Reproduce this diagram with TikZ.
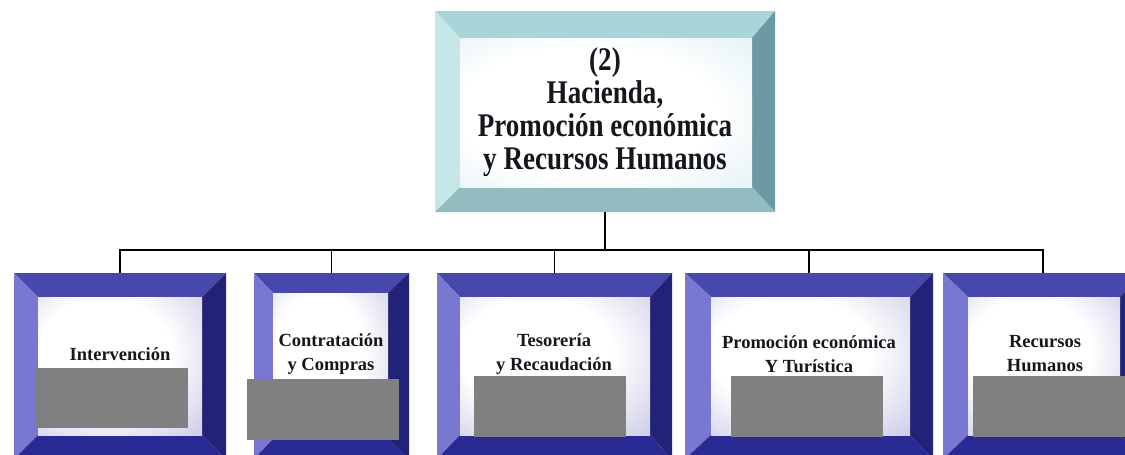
\documentclass[tikz,border=0pt]{standalone}
\usepackage{fontspec}
\setmainfont{Liberation Serif}
\newfontfamily\topfont[FakeStretch=0.82]{Liberation Serif}
\usetikzlibrary{calc}
\definecolor{lo-top}{RGB}{72,72,172}
\definecolor{lo-left}{RGB}{120,120,210}
\definecolor{lo-right}{RGB}{34,34,118}
\definecolor{lo-bottom}{RGB}{42,42,148}
\definecolor{lo-edge}{RGB}{196,196,228}
\definecolor{lo-edge2}{RGB}{150,150,204}
\definecolor{hi-top}{RGB}{168,212,218}
\definecolor{hi-left}{RGB}{198,230,232}
\definecolor{hi-right}{RGB}{108,154,164}
\definecolor{hi-bottom}{RGB}{146,188,192}
\definecolor{hi-edge}{RGB}{214,236,240}
\definecolor{hi-edge2}{RGB}{190,224,230}
\definecolor{redact}{RGB}{128,128,128}
\definecolor{txt}{RGB}{22,22,30}
\pgfdeclareradialshading{loshade}{\pgfpoint{-6bp}{6bp}}{color(0bp)=(white); color(20bp)=(white); color(44bp)=(lo-edge); color(62bp)=(lo-edge2); color(100bp)=(lo-edge2)}
\pgfdeclareradialshading{hishade}{\pgfpoint{-4bp}{0bp}}{color(0bp)=(white); color(22bp)=(white); color(46bp)=(hi-edge); color(62bp)=(hi-edge2); color(100bp)=(hi-edge2)}
\tikzset{
  boxnode/.style={rectangle, inner sep=0pt, outer sep=0pt},
  lo-inner/.style={shading=loshade},
  hi-inner/.style={shading=hishade},
  redbox/.style={rectangle, fill=redact, inner sep=0pt},
  toptext/.style={align=center, text=txt, font=\topfont\bfseries\fontsize{33}{33}\selectfont},
  lowtext/.style={align=center, text=txt, font=\bfseries\fontsize{18.5}{24}\selectfont},
  conn/.style={draw=black, line width=1.4pt}
}
% #1 name, #2 left, #3 top, #4 right, #5 bottom bevel widths, #6 colour scheme
\newcommand\bevelbox[6]{%
  \coordinate (#1-iNW) at ($(#1.north west)+(#2,#3)$);
  \coordinate (#1-iNE) at ($(#1.north east)+(-#4,#3)$);
  \coordinate (#1-iSE) at ($(#1.south east)+(-#4,-#5)$);
  \coordinate (#1-iSW) at ($(#1.south west)+(#2,-#5)$);
  \fill[#6-top] (#1.north west) -- (#1.north east) -- (#1-iNE) -- (#1-iNW) -- cycle;
  \fill[#6-left] (#1.north west) -- (#1-iNW) -- (#1-iSW) -- (#1.south west) -- cycle;
  \fill[#6-right] (#1.north east) -- (#1.south east) -- (#1-iSE) -- (#1-iNE) -- cycle;
  \fill[#6-bottom] (#1.south west) -- (#1-iSW) -- (#1-iSE) -- (#1.south east) -- cycle;
  \shade[#6-inner] (#1-iNW) rectangle (#1-iSE);
}
\begin{document}
\begin{tikzpicture}[x=1pt,y=-1pt]
\useasboundingbox (0,0) rectangle (1125,455);
\clip (0,0) rectangle (1125,455);
\fill[white] (0,0) rectangle (1125,455);
% boxes
\node[boxnode, minimum width=340pt, minimum height=201pt] (top) at (605,111.5) {};
\node[boxnode, minimum width=212pt, minimum height=186pt] (b1) at (120,366) {};
\node[boxnode, minimum width=155pt, minimum height=186pt] (b2) at (331.5,366) {};
\node[boxnode, minimum width=235pt, minimum height=186pt] (b3) at (554.5,366) {};
\node[boxnode, minimum width=248pt, minimum height=186pt] (b4) at (809,366) {};
\node[boxnode, minimum width=200pt, minimum height=186pt] (b5) at (1043,366) {};
\bevelbox{top}{25}{27}{23}{25}{hi}
\bevelbox{b1}{24}{24}{24}{24}{lo}
\bevelbox{b2}{19}{20}{21}{20}{lo}
\bevelbox{b3}{23}{24}{22}{24}{lo}
\bevelbox{b4}{26}{24}{23}{24}{lo}
\bevelbox{b5}{25}{24}{23}{24}{lo}
% connectors
\coordinate (bus) at (0,250);
\draw[conn] (top.south) -- (top.south |- bus);
\draw[conn] (b1.north) -- (b1.north |- bus) -- (b5.north |- bus) -- (b5.north);
\draw[conn] (b2.north) -- (b2.north |- bus);
\draw[conn] (b3.north) -- (b3.north |- bus);
\draw[conn] (b4.north) -- (b4.north |- bus);
% texts
\node[toptext] (tt) at (605,112) {(2)\\Hacienda,\\Promoción económica\\y Recursos Humanos};
\node[lowtext] (t1) at (120,354) {Intervención};
\node[lowtext] (t2) at (331,354) {Contratación\\y Compras};
\node[lowtext] (t3) at (554,354) {Tesorería\\y Recaudación};
\node[lowtext] (t4) at (809,354) {Promoción económica\\Y Turística};
\node[lowtext] (t5) at (1045,354) {Recursos\\Humanos};
% grey blocks
\node[redbox, minimum width=152pt, minimum height=60pt] (g1) at (112,398) {};
\node[redbox, minimum width=152pt, minimum height=61pt] (g2) at (323,409.5) {};
\node[redbox, minimum width=152pt, minimum height=61pt] (g3) at (550,406.5) {};
\node[redbox, minimum width=152pt, minimum height=61pt] (g4) at (807,406.5) {};
\node[redbox, minimum width=152pt, minimum height=61pt] (g5) at (1049,406.5) {};
\end{tikzpicture}
\end{document}
